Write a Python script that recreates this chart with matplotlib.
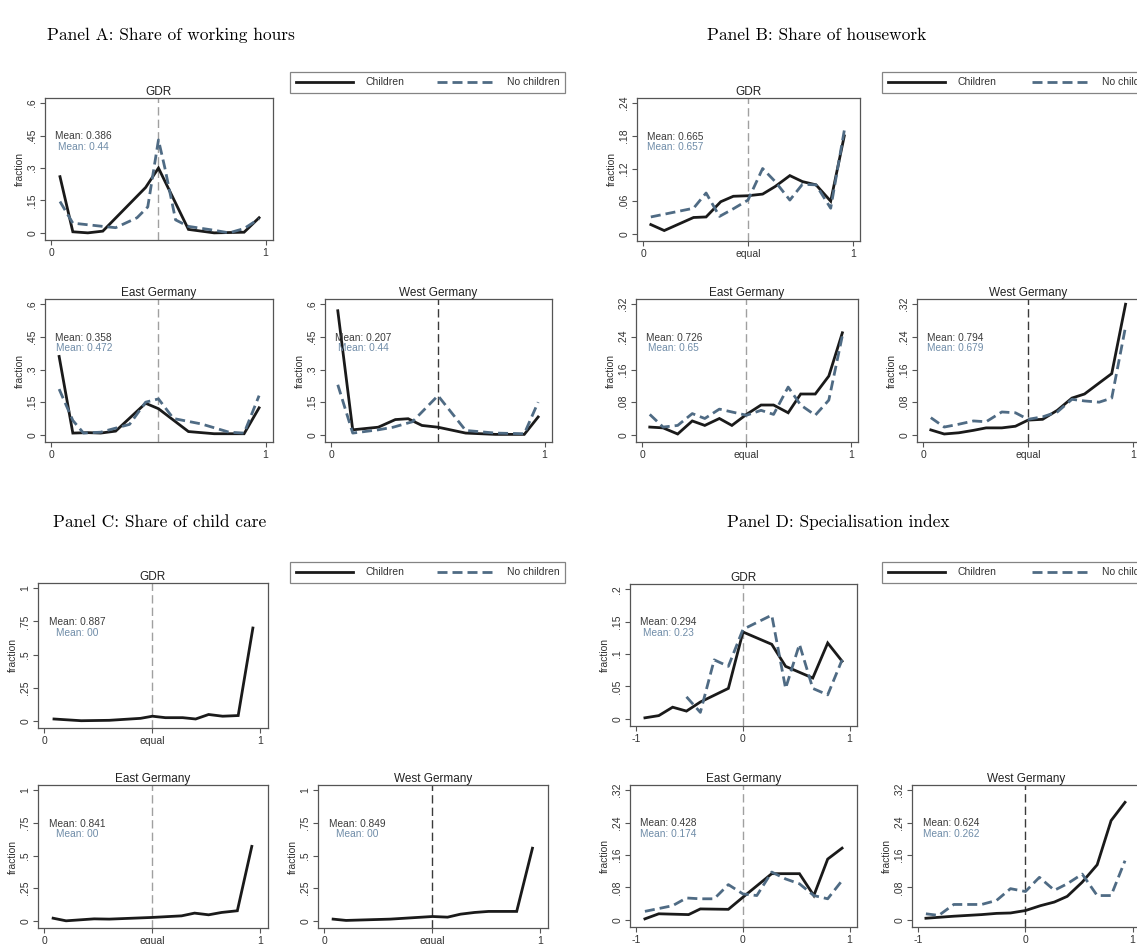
import matplotlib.pyplot as plt
from matplotlib.lines import Line2D

plt.rcParams['font.family'] = ['Liberation Sans', 'DejaVu Sans']

# ---- data ----
# Panel A: share of working hours
a_gdr_kids_x = [0.04, 0.10, 0.17, 0.24, 0.44, 0.50, 0.64, 0.76, 0.90, 0.97]
a_gdr_kids_y = [0.26, 0.005, 0.0, 0.008, 0.21, 0.30, 0.016, 0.0, 0.003, 0.07]
a_gdr_nokids_x = [0.04, 0.10, 0.24, 0.30, 0.40, 0.45, 0.50, 0.53, 0.58, 0.64, 0.76, 0.83, 0.90, 0.97]
a_gdr_nokids_y = [0.145, 0.045, 0.03, 0.024, 0.07, 0.12, 0.43, 0.30, 0.06, 0.03, 0.012, 0.0, 0.02, 0.065]
a_east_kids_x = [0.036, 0.10, 0.17, 0.23, 0.30, 0.44, 0.50, 0.64, 0.76, 0.90, 0.97]
a_east_kids_y = [0.36, 0.008, 0.01, 0.008, 0.017, 0.145, 0.12, 0.015, 0.005, 0.005, 0.124]
a_east_nokids_x = [0.036, 0.10, 0.15, 0.23, 0.365, 0.44, 0.50, 0.57, 0.70, 0.83, 0.90, 0.97]
a_east_nokids_y = [0.21, 0.066, 0.008, 0.012, 0.048, 0.15, 0.165, 0.075, 0.05, 0.012, 0.008, 0.18]
a_west_kids_x = [0.03, 0.10, 0.22, 0.30, 0.36, 0.425, 0.50, 0.63, 0.77, 0.905, 0.97]
a_west_kids_y = [0.57, 0.023, 0.035, 0.07, 0.074, 0.043, 0.035, 0.008, 0.002, 0.002, 0.082]
a_west_nokids_x = [0.03, 0.10, 0.22, 0.29, 0.38, 0.50, 0.63, 0.77, 0.905, 0.97]
a_west_nokids_y = [0.23, 0.008, 0.023, 0.035, 0.06, 0.18, 0.02, 0.008, 0.005, 0.15]
a_means = [('0.386', '0.44'), ('0.358', '0.472'), ('0.207', '0.44')]

# Panel B: share of housework
b_gdr_kids_x = [0.036, 0.10, 0.24, 0.30, 0.37, 0.43, 0.50, 0.57, 0.63, 0.70, 0.76, 0.825, 0.895, 0.96]
b_gdr_kids_y = [0.017, 0.006, 0.03, 0.031, 0.059, 0.069, 0.07, 0.073, 0.087, 0.107, 0.096, 0.09, 0.06, 0.18]
b_gdr_nokids_x = [0.036, 0.24, 0.30, 0.364, 0.43, 0.50, 0.57, 0.63, 0.70, 0.76, 0.825, 0.895, 0.96]
b_gdr_nokids_y = [0.031, 0.047, 0.075, 0.032, 0.046, 0.062, 0.12, 0.096, 0.062, 0.091, 0.09, 0.047, 0.19]
b_east_kids_x = [0.036, 0.10, 0.17, 0.24, 0.30, 0.37, 0.43, 0.50, 0.57, 0.63, 0.70, 0.76, 0.83, 0.895, 0.96]
b_east_kids_y = [0.019, 0.017, 0.002, 0.034, 0.023, 0.04, 0.023, 0.05, 0.073, 0.073, 0.054, 0.10, 0.10, 0.144, 0.25]
b_east_nokids_x = [0.036, 0.10, 0.17, 0.24, 0.30, 0.37, 0.43, 0.50, 0.57, 0.63, 0.70, 0.76, 0.83, 0.895, 0.96]
b_east_nokids_y = [0.05, 0.019, 0.023, 0.052, 0.04, 0.063, 0.056, 0.048, 0.06, 0.05, 0.117, 0.073, 0.048, 0.085, 0.243]
b_west_kids_x = [0.036, 0.10, 0.17, 0.24, 0.30, 0.375, 0.44, 0.50, 0.57, 0.64, 0.71, 0.77, 0.84, 0.90, 0.966]
b_west_kids_y = [0.012, 0.002, 0.005, 0.011, 0.017, 0.017, 0.021, 0.036, 0.038, 0.06, 0.09, 0.10, 0.127, 0.15, 0.32]
b_west_nokids_x = [0.036, 0.10, 0.17, 0.24, 0.30, 0.375, 0.44, 0.50, 0.57, 0.64, 0.71, 0.77, 0.84, 0.90, 0.966]
b_west_nokids_y = [0.042, 0.019, 0.026, 0.034, 0.032, 0.056, 0.054, 0.038, 0.044, 0.056, 0.087, 0.083, 0.08, 0.09, 0.265]
b_means = [('0.665', '0.657'), ('0.726', '0.65'), ('0.794', '0.679')]

# Panel C: share of child care (childless couples have no child care)
c_gdr_kids_x = [0.044, 0.17, 0.30, 0.445, 0.50, 0.56, 0.64, 0.70, 0.76, 0.825, 0.897, 0.965]
c_gdr_kids_y = [0.013, 0.0, 0.003, 0.018, 0.034, 0.023, 0.023, 0.013, 0.047, 0.034, 0.039, 0.70]
c_east_kids_x = [0.04, 0.10, 0.23, 0.30, 0.50, 0.635, 0.695, 0.76, 0.82, 0.893, 0.96]
c_east_kids_y = [0.02, 0.0, 0.015, 0.013, 0.026, 0.038, 0.059, 0.046, 0.064, 0.077, 0.57]
c_west_kids_x = [0.04, 0.10, 0.305, 0.50, 0.57, 0.63, 0.695, 0.76, 0.89, 0.963]
c_west_kids_y = [0.013, 0.003, 0.013, 0.033, 0.028, 0.051, 0.064, 0.072, 0.072, 0.556]
c_means = [('0.887', '00'), ('0.841', '00'), ('0.849', '00')]

# Panel D: specialisation index
d_gdr_kids_x = [-0.92, -0.79, -0.66, -0.53, -0.40, -0.137, 0.0, 0.27, 0.40, 0.655, 0.795, 0.93]
d_gdr_kids_y = [0.0016, 0.005, 0.018, 0.012, 0.026, 0.047, 0.134, 0.115, 0.081, 0.063, 0.117, 0.089]
d_gdr_nokids_x = [-0.53, -0.40, -0.27, -0.137, 0.0, 0.27, 0.40, 0.53, 0.655, 0.795, 0.93]
d_gdr_nokids_y = [0.034, 0.01, 0.091, 0.081, 0.138, 0.16, 0.047, 0.115, 0.047, 0.037, 0.091]
d_east_kids_x = [-0.92, -0.79, -0.51, -0.40, -0.137, 0.0, 0.27, 0.53, 0.665, 0.795, 0.93]
d_east_kids_y = [0.0025, 0.015, 0.013, 0.027, 0.026, 0.056, 0.114, 0.114, 0.06, 0.15, 0.177]
d_east_nokids_x = [-0.92, -0.66, -0.53, -0.40, -0.27, -0.137, 0.0, 0.13, 0.27, 0.40, 0.53, 0.665, 0.795, 0.93]
d_east_nokids_y = [0.021, 0.035, 0.054, 0.052, 0.052, 0.087, 0.064, 0.06, 0.118, 0.101, 0.089, 0.06, 0.052, 0.097]
d_west_kids_x = [-0.93, -0.67, -0.41, -0.27, -0.14, 0.0, 0.14, 0.27, 0.39, 0.53, 0.67, 0.80, 0.93]
d_west_kids_y = [0.004, 0.009, 0.013, 0.016, 0.017, 0.023, 0.035, 0.044, 0.058, 0.093, 0.136, 0.245, 0.29]
d_west_nokids_x = [-0.93, -0.81, -0.67, -0.41, -0.27, -0.14, 0.0, 0.13, 0.27, 0.39, 0.53, 0.67, 0.80, 0.93]
d_west_nokids_y = [0.015, 0.011, 0.038, 0.038, 0.048, 0.077, 0.07, 0.105, 0.073, 0.089, 0.113, 0.06, 0.06, 0.146]
d_means = [('0.294', '0.23'), ('0.428', '0.174'), ('0.624', '0.262')]

a_yticks = [0, 0.15, 0.3, 0.45, 0.6]
a_ylabels = ['0', '.15', '.3', '.45', '.6']
b_gdr_yticks = [0, 0.06, 0.12, 0.18, 0.24]
b_gdr_ylabels = ['0', '.06', '.12', '.18', '.24']
e32_yticks = [0, 0.08, 0.16, 0.24, 0.32]
e32_ylabels = ['0', '.08', '.16', '.24', '.32']
c_yticks = [0, 0.25, 0.5, 0.75, 1]
c_ylabels = ['0', '.25', '.5', '.75', '1']
d_gdr_yticks = [0, 0.05, 0.1, 0.15, 0.2]
d_gdr_ylabels = ['0', '.05', '.1', '.15', '.2']

panel_titles = ['Panel A: Share of working hours', 'Panel B: Share of housework',
                'Panel C: Share of child care', 'Panel D: Specialisation index']
region_titles = ['GDR', 'East Germany', 'West Germany']
series_labels = ['Children', 'No children']

KID_COL = '#1a1a1a'
NOKID_COL = '#4f6b84'
MEAN1_COL = '#3c3c3c'
MEAN2_COL = '#6f8ca8'

W, H = 1137, 944
fig = plt.figure(figsize=(W / 100, H / 100), dpi=100)


def px_box(l, t, r, b):
    return [l / W, 1 - b / H, (r - l) / W, (b - t) / H]


def draw(rect, title, kx, ky, nx, ny, means, yticks, ylabels, xticks, xlabels, center, west):
    ax = fig.add_axes(px_box(*rect))
    ax.plot(kx, ky, color=KID_COL, lw=2.0, solid_joinstyle='miter')
    if nx is not None:
        ax.plot(nx, ny, color=NOKID_COL, lw=2.0, dashes=(3.6, 1.8))
    vcol = '#3a3a3a' if west else '#a0a0a0'
    ax.axvline(center, color=vcol, lw=1.0, dashes=(6, 3), zorder=0)
    x0, x1 = xticks[0], xticks[-1]
    xr = x1 - x0
    ax.set_xlim(x0 - 0.03 * xr, x1 + 0.035 * xr)
    y0, y1 = yticks[0], yticks[-1]
    ax.set_ylim(y0 - 0.055 * y1, y1 * 1.04)
    ax.set_xticks(xticks)
    ax.set_xticklabels(xlabels)
    ax.set_yticks(yticks)
    ax.set_yticklabels(ylabels, rotation=90, va='center')
    ax.tick_params(length=3.5, width=0.8, color='#555555', labelsize=7.5,
                   labelcolor='#333333', pad=2)
    for s in ax.spines.values():
        s.set_color('#555555')
        s.set_linewidth(0.9)
    ax.set_ylabel('fraction', fontsize=7.5, color='#333333', labelpad=2)
    ax.set_title(title, fontsize=8.5, color='#222222', pad=2)
    ax.text(0.17, 0.73, 'Mean: ' + means[0], transform=ax.transAxes, ha='center',
            va='center', fontsize=7.3, color=MEAN1_COL)
    ax.text(0.17, 0.655, 'Mean: ' + means[1], transform=ax.transAxes, ha='center',
            va='center', fontsize=7.3, color=MEAN2_COL)
    return ax


def legend_box(rect):
    l, t, r, b = rect
    handles = [Line2D([], [], color=KID_COL, lw=2.0),
               Line2D([], [], color=NOKID_COL, lw=2.0, dashes=(3.6, 1.8))]
    leg = fig.legend(handles, series_labels, loc='lower left',
                     bbox_to_anchor=px_box(l, t, r, b), mode='expand', ncol=2,
                     fontsize=7.5, frameon=True, fancybox=False, handlelength=5.5,
                     handletextpad=1.2, borderaxespad=0, borderpad=0.55,
                     columnspacing=1.5)
    leg.get_frame().set_edgecolor('#666666')
    leg.get_frame().set_linewidth(0.9)
    for txt in leg.get_texts():
        txt.set_color('#333333')


unit_ticks = [0, 1]
eq_ticks = [0, 0.5, 1]
eq_labels = ['0', 'equal', '1']
d_ticks = [-1, 0, 1]
d_labels = ['-1', '0', '1']

# Panel A
draw((45, 98, 273, 240), region_titles[0], a_gdr_kids_x, a_gdr_kids_y, a_gdr_nokids_x,
     a_gdr_nokids_y, a_means[0], a_yticks, a_ylabels, unit_ticks, ['0', '1'], 0.5, False)
draw((45, 299, 273, 442), region_titles[1], a_east_kids_x, a_east_kids_y, a_east_nokids_x,
     a_east_nokids_y, a_means[1], a_yticks, a_ylabels, unit_ticks, ['0', '1'], 0.5, False)
draw((325, 299, 552, 442), region_titles[2], a_west_kids_x, a_west_kids_y, a_west_nokids_x,
     a_west_nokids_y, a_means[2], a_yticks, a_ylabels, unit_ticks, ['0', '1'], 0.5, True)
legend_box((290, 68, 565, 93))

# Panel B
draw((637, 98, 860, 241), region_titles[0], b_gdr_kids_x, b_gdr_kids_y, b_gdr_nokids_x,
     b_gdr_nokids_y, b_means[0], b_gdr_yticks, b_gdr_ylabels, eq_ticks, eq_labels, 0.5, False)
draw((636, 299, 858, 442), region_titles[1], b_east_kids_x, b_east_kids_y, b_east_nokids_x,
     b_east_nokids_y, b_means[1], e32_yticks, e32_ylabels, eq_ticks, eq_labels, 0.5, False)
draw((917, 299, 1140, 442), region_titles[2], b_west_kids_x, b_west_kids_y, b_west_nokids_x,
     b_west_nokids_y, b_means[2], e32_yticks, e32_ylabels, eq_ticks, eq_labels, 0.5, True)
legend_box((882, 68, 1160, 93))

# Panel C
draw((38, 583, 268, 728), region_titles[0], c_gdr_kids_x, c_gdr_kids_y, None, None,
     c_means[0], c_yticks, c_ylabels, eq_ticks, eq_labels, 0.5, False)
draw((38, 785, 268, 928), region_titles[1], c_east_kids_x, c_east_kids_y, None, None,
     c_means[1], c_yticks, c_ylabels, eq_ticks, eq_labels, 0.5, False)
draw((318, 785, 548, 928), region_titles[2], c_west_kids_x, c_west_kids_y, None, None,
     c_means[2], c_yticks, c_ylabels, eq_ticks, eq_labels, 0.5, True)
legend_box((290, 557, 565, 583))

# Panel D
draw((630, 584, 857, 726), region_titles[0], d_gdr_kids_x, d_gdr_kids_y, d_gdr_nokids_x,
     d_gdr_nokids_y, d_means[0], d_gdr_yticks, d_gdr_ylabels, d_ticks, d_labels, 0, False)
draw((630, 785, 857, 927), region_titles[1], d_east_kids_x, d_east_kids_y, d_east_nokids_x,
     d_east_nokids_y, d_means[1], e32_yticks, e32_ylabels, d_ticks, d_labels, 0, False)
draw((912, 785, 1140, 927), region_titles[2], d_west_kids_x, d_west_kids_y, d_west_nokids_x,
     d_west_nokids_y, d_means[2], e32_yticks, e32_ylabels, d_ticks, d_labels, 0, True)
legend_box((882, 557, 1160, 583))

# panel headings (serif, LaTeX look)
for txt, (cx, cy) in zip(panel_titles, [(171, 35), (817, 35), (160, 522), (838, 522)]):
    fig.text(cx / W, 1 - cy / H, txt, ha='center', va='center', fontsize=12.5,
             family=['cmr10', 'DejaVu Serif'])

fig.savefig('out.png', dpi=100)
